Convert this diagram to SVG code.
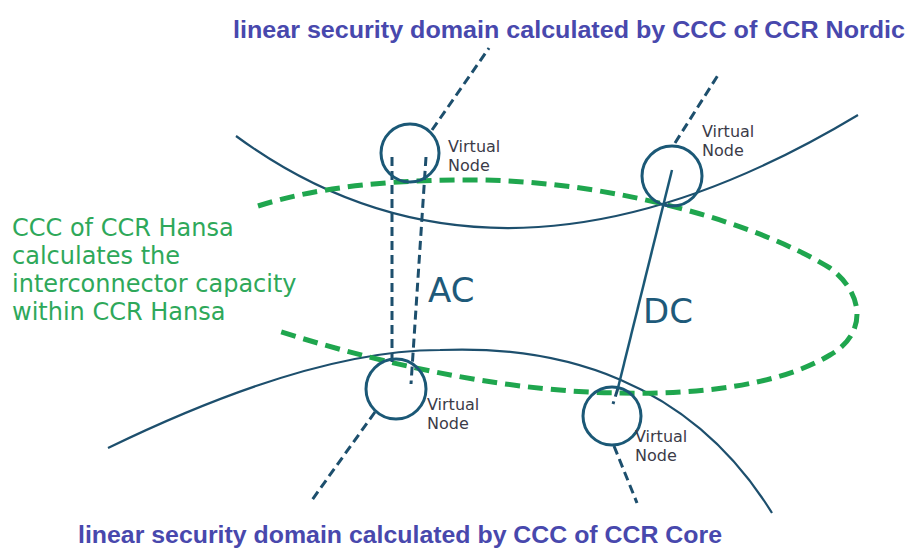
<svg xmlns="http://www.w3.org/2000/svg" width="911" height="550" viewBox="0 0 911 550">
<style>
.arc{fill:none;stroke:#1d4f6d;stroke-width:2.2}
.vn{fill:none;stroke:#1b5876;stroke-width:3}
.lbl{font-family:"DejaVu Sans",Verdana,sans-serif;font-size:16px;fill:#3b3b48}
.dash{fill:none;stroke:#1d4f6d;stroke-width:3;stroke-dasharray:9 5}
.solid{fill:none;stroke:#1b5876;stroke-width:2.5}
.hansa{fill:none;stroke:#1fa64e;stroke-width:5;stroke-dasharray:15 8}
.title{font-family:"Liberation Sans",Arial,sans-serif;font-weight:bold;font-size:23px;fill:#4848ad}
.green{font-family:"DejaVu Sans",Verdana,sans-serif;font-size:24px;fill:#2ea85a}
.big{font-family:"DejaVu Sans",Verdana,sans-serif;font-size:34px;fill:#1e5a7a}
</style>
<rect width="911" height="550" fill="#ffffff"/>
<g id="domains">
<path id="nordic-domain" class="arc" d="M236,136 Q500,330 858,115"/>
<path id="core-domain" class="arc" d="M108,448 Q310,350 440,350 C560,345 690,380 772,513"/>
<path id="hansa-domain" class="hansa" d="M258,206 C320,186 400,179 480,180 C620,182 760,225 830,268 C866,295 866,335 830,355 C780,385 700,395 620,393 C520,392 400,370 275,330"/>
</g>
<g id="connectors">
<line class="dash" x1="432" y1="130" x2="489" y2="48"/>
<line class="dash" x1="392" y1="157" x2="392" y2="367"/>
<line class="dash" x1="426" y1="157" x2="411" y2="384"/>
<line class="dash" x1="375" y1="412" x2="312" y2="500"/>
<line class="dash" x1="675" y1="143" x2="720" y2="72"/>
<line class="dash" x1="614" y1="446" x2="637" y2="503"/>
<line class="solid" x1="672" y1="170" x2="618" y2="388"/>
<line class="dash" x1="618" y1="388" x2="613" y2="404"/>
</g>
<g id="vn-nordic-ac">
<circle class="vn" cx="410" cy="153" r="29"/>
<text class="lbl" x="448" y="152">Virtual</text>
<text class="lbl" x="448" y="171">Node</text>
</g>
<g id="vn-nordic-dc">
<circle class="vn" cx="672" cy="176" r="30"/>
<text class="lbl" x="702" y="137">Virtual</text>
<text class="lbl" x="702" y="156">Node</text>
</g>
<g id="vn-core-ac">
<circle class="vn" cx="396" cy="389" r="30"/>
<text class="lbl" x="427" y="410">Virtual</text>
<text class="lbl" x="427" y="429">Node</text>
</g>
<g id="vn-core-dc">
<circle class="vn" cx="612" cy="416" r="29"/>
<text class="lbl" x="635" y="442">Virtual</text>
<text class="lbl" x="635" y="461">Node</text>
</g>
<g id="labels">
<text class="big" x="428" y="302">AC</text>
<text class="big" x="643" y="323">DC</text>
<text class="title" x="233" y="38" textLength="672" lengthAdjust="spacingAndGlyphs">linear security domain calculated by CCC of CCR Nordic</text>
<text class="title" x="78" y="543" textLength="644" lengthAdjust="spacingAndGlyphs">linear security domain calculated by CCC of CCR Core</text>
<text class="green" x="12" y="236">CCC of CCR Hansa</text>
<text class="green" x="12" y="264">calculates the</text>
<text class="green" x="12" y="292">interconnector capacity</text>
<text class="green" x="12" y="320">within CCR Hansa</text>
</g>
</svg>
